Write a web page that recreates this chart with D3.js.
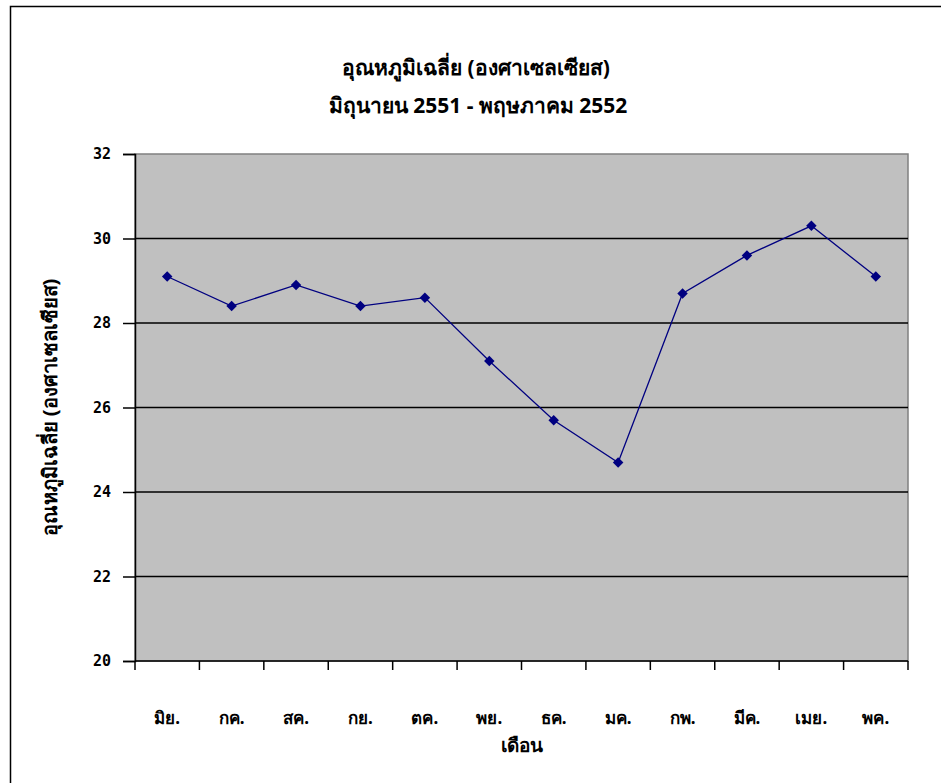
<!DOCTYPE html>
<html>
<head>
<meta charset="utf-8">
<script src="https://cdn.jsdelivr.net/npm/d3@7"></script>
<style>
  html, body { margin: 0; padding: 0; background: #fff; }
  svg { display: block; }
  text { font-family: Tahoma, "Noto Sans", "DejaVu Sans", sans-serif; fill: #000; }
</style>
</head>
<body>
<svg id="chart" width="941" height="783"></svg>
<script>
const months = ["มิย.", "กค.", "สค.", "กย.", "ตค.", "พย.", "ธค.", "มค.", "กพ.", "มีค.", "เมย.", "พค."];
const temps = [29.1, 28.4, 28.9, 28.4, 28.6, 27.1, 25.7, 24.7, 28.7, 29.6, 30.3, 29.1];
const yTicks = [20, 22, 24, 26, 28, 30, 32];
const titleLines = ["อุณหภูมิเฉลี่ย (องศาเซลเซียส)", "มิถุนายน 2551 - พฤษภาคม 2552"];
const yLabel = "อุณหภูมิเฉลี่ย (องศาเซลเซียส)";
const xLabel = "เดือน";

const svg = d3.select("#chart");
const plot = { left: 135, top: 154, right: 908, bottom: 661 };

// outer chart frame
svg.append("rect")
  .attr("x", 10.5).attr("y", 6.5)
  .attr("width", 945).attr("height", 800)
  .attr("fill", "#fff").attr("stroke", "#000").attr("stroke-width", 1.5);

const x = d3.scaleBand().domain(months).range([plot.left, plot.right]).padding(0);
const y = d3.scaleLinear().domain([20, 32]).range([plot.bottom, plot.top]);

// plot area
svg.append("rect")
  .attr("x", plot.left).attr("y", plot.top)
  .attr("width", plot.right - plot.left).attr("height", plot.bottom - plot.top)
  .attr("fill", "#c0c0c0").attr("stroke", "#808080").attr("stroke-width", 1.5);

// gridlines
svg.append("g").selectAll("line")
  .data(yTicks.filter(d => d > 20 && d < 32))
  .join("line")
  .attr("x1", plot.left).attr("x2", plot.right)
  .attr("y1", d => y(d)).attr("y2", d => y(d))
  .attr("stroke", "#000").attr("stroke-width", 1.5);

// y axis
const yAxis = d3.axisLeft(y).tickValues(yTicks).tickSize(12).tickPadding(12).tickFormat(d3.format("d"));
const gy = svg.append("g").attr("transform", `translate(${plot.left},0)`).call(yAxis);
gy.select(".domain").attr("stroke", "#000").attr("stroke-width", 1.5);
gy.selectAll(".tick line").attr("stroke", "#000").attr("stroke-width", 1.5);
gy.selectAll(".tick text").attr("font-size", 15).attr("font-weight", "bold")
  .style("font-family", "'DejaVu Sans Mono', monospace").attr("fill", "#000");

// x axis: ticks at category boundaries
const gx = svg.append("g").attr("transform", `translate(0,${plot.bottom})`);
gx.append("line").attr("x1", plot.left).attr("x2", plot.right).attr("y1", 0).attr("y2", 0)
  .attr("stroke", "#000").attr("stroke-width", 1.5);
const bounds = months.map(m => x(m)).concat([x(months[months.length - 1]) + x.bandwidth()]);
gx.selectAll("line.tk").data(bounds).join("line").attr("class", "tk")
  .attr("x1", d => d).attr("x2", d => d).attr("y1", 0).attr("y2", 9)
  .attr("stroke", "#000").attr("stroke-width", 1.5);
gx.selectAll("text").data(months).join("text")
  .attr("x", d => x(d) + x.bandwidth() / 2)
  .attr("y", 63)
  .attr("text-anchor", "middle")
  .attr("font-size", 17).attr("font-weight", "bold")
  .text(d => d);

// line and markers
const line = d3.line().x((d, i) => x(months[i]) + x.bandwidth() / 2).y(d => y(d));
svg.append("path").datum(temps)
  .attr("d", line).attr("fill", "none").attr("stroke", "#000080").attr("stroke-width", 1.3);
svg.append("g").selectAll("path").data(temps).join("path")
  .attr("d", d3.symbol().type(d3.symbolSquare).size(55))
  .attr("transform", (d, i) => `translate(${x(months[i]) + x.bandwidth() / 2},${y(d)}) rotate(45)`)
  .attr("fill", "#000080");

// titles
svg.append("text").attr("x", 476).attr("y", 75).attr("text-anchor", "middle")
  .attr("font-size", 21).attr("font-weight", "bold").text(titleLines[0]);
svg.append("text").attr("x", 478).attr("y", 113).attr("text-anchor", "middle")
  .attr("font-size", 21).attr("font-weight", "bold").text(titleLines[1]);

// axis labels
svg.append("text").attr("transform", `translate(57,${(plot.top + plot.bottom) / 2}) rotate(-90)`)
  .attr("text-anchor", "middle").attr("font-size", 20).attr("font-weight", "bold").text(yLabel);
svg.append("text").attr("x", (plot.left + plot.right) / 2).attr("y", 752)
  .attr("text-anchor", "middle").attr("font-size", 19).attr("font-weight", "bold").text(xLabel);
</script>
</body>
</html>
